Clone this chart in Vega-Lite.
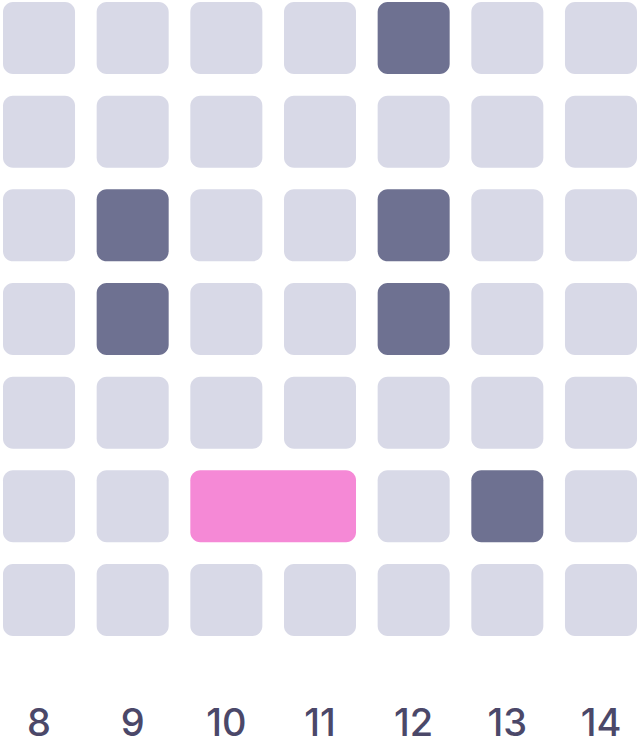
{
  "$schema": "https://vega.github.io/schema/vega-lite/v6.json",
  "width": 640,
  "height": 638,
  "padding": 0,
  "background": "white",
  "view": {"stroke": null},
  "data": {
    "values": [
      {"row": 1, "col": 8, "col_end": 8, "status": "free"},
      {"row": 1, "col": 9, "col_end": 9, "status": "free"},
      {"row": 1, "col": 10, "col_end": 10, "status": "free"},
      {"row": 1, "col": 11, "col_end": 11, "status": "free"},
      {"row": 1, "col": 12, "col_end": 12, "status": "busy"},
      {"row": 1, "col": 13, "col_end": 13, "status": "free"},
      {"row": 1, "col": 14, "col_end": 14, "status": "free"},
      {"row": 2, "col": 8, "col_end": 8, "status": "free"},
      {"row": 2, "col": 9, "col_end": 9, "status": "free"},
      {"row": 2, "col": 10, "col_end": 10, "status": "free"},
      {"row": 2, "col": 11, "col_end": 11, "status": "free"},
      {"row": 2, "col": 12, "col_end": 12, "status": "free"},
      {"row": 2, "col": 13, "col_end": 13, "status": "free"},
      {"row": 2, "col": 14, "col_end": 14, "status": "free"},
      {"row": 3, "col": 8, "col_end": 8, "status": "free"},
      {"row": 3, "col": 9, "col_end": 9, "status": "busy"},
      {"row": 3, "col": 10, "col_end": 10, "status": "free"},
      {"row": 3, "col": 11, "col_end": 11, "status": "free"},
      {"row": 3, "col": 12, "col_end": 12, "status": "busy"},
      {"row": 3, "col": 13, "col_end": 13, "status": "free"},
      {"row": 3, "col": 14, "col_end": 14, "status": "free"},
      {"row": 4, "col": 8, "col_end": 8, "status": "free"},
      {"row": 4, "col": 9, "col_end": 9, "status": "busy"},
      {"row": 4, "col": 10, "col_end": 10, "status": "free"},
      {"row": 4, "col": 11, "col_end": 11, "status": "free"},
      {"row": 4, "col": 12, "col_end": 12, "status": "busy"},
      {"row": 4, "col": 13, "col_end": 13, "status": "free"},
      {"row": 4, "col": 14, "col_end": 14, "status": "free"},
      {"row": 5, "col": 8, "col_end": 8, "status": "free"},
      {"row": 5, "col": 9, "col_end": 9, "status": "free"},
      {"row": 5, "col": 10, "col_end": 10, "status": "free"},
      {"row": 5, "col": 11, "col_end": 11, "status": "free"},
      {"row": 5, "col": 12, "col_end": 12, "status": "free"},
      {"row": 5, "col": 13, "col_end": 13, "status": "free"},
      {"row": 5, "col": 14, "col_end": 14, "status": "free"},
      {"row": 6, "col": 8, "col_end": 8, "status": "free"},
      {"row": 6, "col": 9, "col_end": 9, "status": "free"},
      {"row": 6, "col": 10, "col_end": 11, "status": "selected"},
      {"row": 6, "col": 12, "col_end": 12, "status": "free"},
      {"row": 6, "col": 13, "col_end": 13, "status": "busy"},
      {"row": 6, "col": 14, "col_end": 14, "status": "free"},
      {"row": 7, "col": 8, "col_end": 8, "status": "free"},
      {"row": 7, "col": 9, "col_end": 9, "status": "free"},
      {"row": 7, "col": 10, "col_end": 10, "status": "free"},
      {"row": 7, "col": 11, "col_end": 11, "status": "free"},
      {"row": 7, "col": 12, "col_end": 12, "status": "free"},
      {"row": 7, "col": 13, "col_end": 13, "status": "free"},
      {"row": 7, "col": 14, "col_end": 14, "status": "free"}
    ]
  },
  "mark": {"type": "rect", "cornerRadius": 10},
  "encoding": {
    "x": {
      "field": "col",
      "type": "ordinal",
      "bandPosition": 0,
      "scale": {"domain": [8, 9, 10, 11, 12, 13, 14], "paddingInner": 0.231, "paddingOuter": 0.032},
      "axis": {
        "title": null,
        "domain": false,
        "ticks": false,
        "tickSize": 0,
        "labelAngle": 0,
        "labelPadding": 105,
        "labelBaseline": "bottom",
        "labelFont": "Inter",
        "labelFontSize": 38,
        "labelFontWeight": 500,
        "labelColor": "#4b4869"
      }
    },
    "x2": {"field": "col_end", "bandPosition": 1},
    "y": {
      "field": "row",
      "type": "ordinal",
      "scale": {"domain": [1, 2, 3, 4, 5, 6, 7], "paddingInner": 0.231, "paddingOuter": 0.0213},
      "axis": null
    },
    "color": {
      "field": "status",
      "type": "nominal",
      "scale": {"domain": ["free", "busy", "selected"], "range": ["#d8d9e7", "#6e7191", "#f589d6"]},
      "legend": null
    }
  }
}
